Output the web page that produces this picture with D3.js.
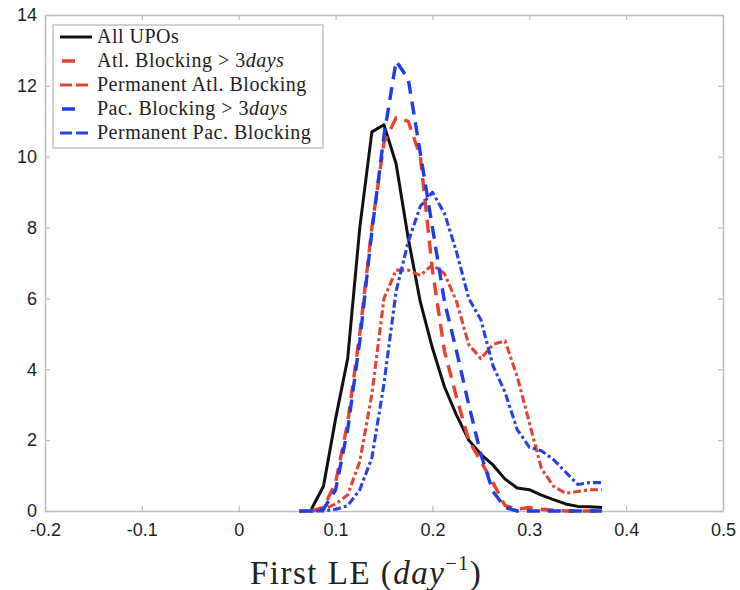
<!DOCTYPE html>
<html>
<head>
<meta charset="utf-8">
<script src="https://cdn.jsdelivr.net/npm/d3@7"></script>
<style>
  body { margin: 0; background: #fff; }
  .tick text { font-family: "Liberation Sans", Arial, sans-serif; font-size: 18px; fill: #1e1e1e; }
  .legend text { font-family: "Liberation Serif", serif; font-size: 20px; fill: #222; letter-spacing: 0.5px; }
</style>
</head>
<body>
<script>
(function(){

    //bin centres shared by all curves (day^-1)
    var binX = [0.0625, 0.075, 0.0875, 0.1, 0.1125, 0.125, 0.1375, 0.15, 0.1625, 0.175,
                0.1875, 0.2, 0.2125, 0.225, 0.2375, 0.25, 0.2625, 0.275, 0.2875, 0.3,
                0.3125, 0.325, 0.3375, 0.35, 0.3625, 0.375];

    //pdf values, one per bin (null = not drawn)
    var allUPOs   = [null, 0.05, 0.7, 2.6, 4.3, 8.0, 10.7, 10.9, 9.8, 7.7,
                     5.9, 4.6, 3.5, 2.7, 2.0, 1.6, 1.3, 0.9, 0.65, 0.6,
                     0.45, 0.32, 0.2, 0.13, 0.12, 0.1];
    var atl3days  = [null, 0, 0.1, 0.8, 2.5, 5.0, 8.0, 10.4, 11.1, 11.0,
                     10.0, 6.8, 4.5, 3.2, 2.0, 1.4, 0.8, 0.15, 0.05, 0.1,
                     0.05, 0.02, 0, 0, 0, 0];
    var atlPerm   = [null, 0, 0.05, 0.2, 0.45, 1.4, 3.3, 6.0, 6.8, 6.8,
                     6.65, 6.95, 6.7, 5.9, 4.7, 4.3, 4.7, 4.8, 3.8, 2.5,
                     1.2, 0.7, 0.5, 0.55, 0.6, 0.6];
    var pac3days  = [0, 0, 0.05, 0.6, 2.3, 4.8, 7.9, 10.6, 12.7, 12.2,
                     10.1, 8.0, 5.9, 4.5, 3.0, 1.6, 0.55, 0.1, 0, 0,
                     0, 0, 0, 0, 0, 0];
    var pacPerm   = [0, 0, 0, 0.05, 0.15, 0.6, 1.5, 3.6, 6.2, 7.6,
                     8.6, 9.0, 8.4, 7.3, 6.0, 5.4, 4.1, 3.35, 2.3, 1.8,
                     1.7, 1.45, 1.1, 0.75, 0.8, 0.8];

    var seriesNames = ["All UPOs", "Atl. Blocking > 3", "Permanent Atl. Blocking",
                       "Pac. Blocking > 3", "Permanent Pac. Blocking"];

    var xTicks = [-0.2, -0.1, 0, 0.1, 0.2, 0.3, 0.4, 0.5];
    var yTicks = [0, 2, 4, 6, 8, 10, 12, 14];

    //line styles, in legend order
    var styles = [
        {color: "#111111", dash: null,       width: 3},
        {color: "#e8412c", dash: "13,8",     width: 3.4},
        {color: "#dc4433", dash: "8,3,3,3",  width: 3.1},
        {color: "#1f3ce8", dash: "13,8",     width: 3.4},
        {color: "#2443e0", dash: "8,3,3,3",  width: 3.1}
    ];

    window.onload = drawChart();

    function drawChart(){

        var width = 740,
            height = 590;

        var plot = {left: 45, right: 723, top: 15, bottom: 511};

        var svg = d3.select("body")
            .append("svg")
            .attr("width", width)
            .attr("height", height);

        var x = d3.scaleLinear()
            .domain([-0.2, 0.5])
            .range([plot.left, plot.right]);

        var y = d3.scaleLinear()
            .domain([0, 14])
            .range([plot.bottom, plot.top]);

        //axes, MATLAB style: box with inward ticks all round
        var axisColor = "#bdbdbd";

        svg.append("g")
            .attr("transform", "translate(0," + plot.bottom + ")")
            .call(d3.axisBottom(x).tickValues(xTicks).tickSizeInner(-5).tickSizeOuter(0).tickPadding(12)
                .tickFormat(function(d){ return d === 0 ? "0" : d3.format(".1f")(d).replace("−", "-"); }));

        svg.append("g")
            .attr("transform", "translate(" + plot.left + ",0)")
            .call(d3.axisLeft(y).tickValues(yTicks).tickSizeInner(-5).tickSizeOuter(0).tickPadding(8));

        svg.append("g")
            .attr("transform", "translate(0," + plot.top + ")")
            .call(d3.axisTop(x).tickValues(xTicks).tickSizeInner(-5).tickSizeOuter(0).tickFormat(""));

        svg.append("g")
            .attr("transform", "translate(" + plot.right + ",0)")
            .call(d3.axisRight(y).tickValues(yTicks).tickSizeInner(-5).tickSizeOuter(0).tickFormat(""));

        svg.selectAll(".domain").attr("stroke", axisColor).attr("stroke-width", 1.5);
        svg.selectAll(".tick line").attr("stroke", axisColor).attr("stroke-width", 1.2);

        //curves
        var allSeries = [allUPOs, atl3days, atlPerm, pac3days, pacPerm];

        var line = d3.line()
            .defined(function(d){ return d[1] !== null; })
            .x(function(d){ return x(d[0]); })
            .y(function(d){ return y(d[1]); });

        svg.selectAll(".curve")
            .data(allSeries)
            .enter()
            .append("path")
            .attr("class", "curve")
            .attr("d", function(s){
                return line(binX.map(function(v, i){ return [v, s[i]]; }));
            })
            .attr("fill", "none")
            .attr("stroke", function(d, i){ return styles[i].color; })
            .attr("stroke-width", function(d, i){ return styles[i].width; })
            .attr("stroke-dasharray", function(d, i){ return styles[i].dash; })
            .attr("stroke-linejoin", "round");

        //legend
        var legend = svg.append("g").attr("class", "legend");

        legend.append("rect")
            .attr("x", 53)
            .attr("y", 25)
            .attr("width", 270)
            .attr("height", 123)
            .attr("fill", "#fff")
            .attr("stroke", "#b5b5b5")
            .attr("stroke-width", 1.2);

        var rows = legend.selectAll(".row")
            .data(seriesNames)
            .enter()
            .append("g")
            .attr("class", "row")
            .attr("transform", function(d, i){ return "translate(0," + (37 + i * 24) + ")"; });

        rows.append("line")
            .attr("x1", 60)
            .attr("x2", 92)
            .attr("y1", 0)
            .attr("y2", 0)
            .attr("stroke", function(d, i){ return styles[i].color; })
            .attr("stroke-width", function(d, i){ return styles[i].width; })
            .attr("stroke-dasharray", function(d, i){
                return i === 0 ? null : (i % 2 === 1 ? "0,2,13,40" : "12,4");
            });

        var labels = rows.append("text")
            .attr("x", 97)
            .attr("y", 6)
            .text(function(d){ return d; });

        labels.filter(function(d, i){ return i === 1 || i === 3; })
            .append("tspan")
            .attr("font-style", "italic")
            .text("days");

        //x axis title
        var title = svg.append("text")
            .attr("x", 250)
            .attr("y", 584)
            .attr("font-family", "Liberation Serif, serif")
            .attr("font-size", 33)
            .attr("letter-spacing", 1.5)
            .attr("fill", "#222");
        title.append("tspan").text("First LE (");
        title.append("tspan").attr("font-style", "italic").text("day");
        title.append("tspan").attr("font-size", 20).attr("dy", -14).text("−1");
        title.append("tspan").attr("dy", 14).text(")");
    }

})();
</script>
</body>
</html>
